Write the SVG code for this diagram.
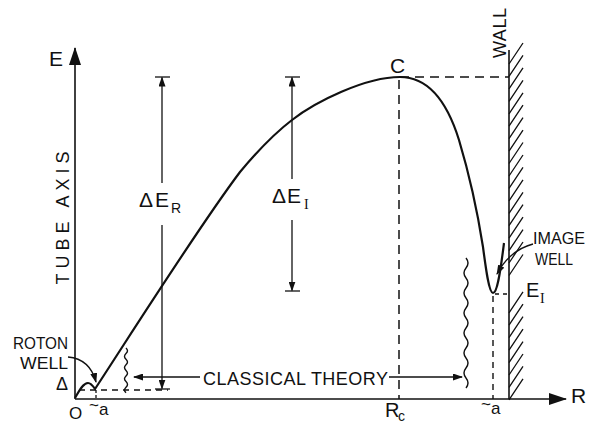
<svg xmlns="http://www.w3.org/2000/svg" width="592" height="423" viewBox="0 0 592 423">
<defs>
<style>
text{font-family:"Liberation Sans",Arial,sans-serif;fill:#111;}
.ln{stroke:#111;fill:none;stroke-width:1.3;}
.ax{stroke:#111;fill:none;stroke-width:1.6;}
.crv{stroke:#111;fill:none;stroke-width:2.2;stroke-linejoin:round;}
.dash{stroke:#111;fill:none;stroke-width:1.5;stroke-dasharray:9 6;}
.dash2{stroke:#111;fill:none;stroke-width:1.4;stroke-dasharray:6 5;}
.wav{stroke:#111;fill:none;stroke-width:1.4;}
.t16{font-size:16px;}
.t17{font-size:17px;}
.t18{font-size:18px;}
.t20{font-size:20px;}
.t21{font-size:21px;}
.sub{font-size:14px;}
</style>
<marker id="ah" markerUnits="userSpaceOnUse" markerWidth="10" markerHeight="7" refX="9" refY="3.5" orient="auto"><path d="M0,0 L10,3.5 L0,7 z" fill="#111"/></marker>
<marker id="axh" markerUnits="userSpaceOnUse" markerWidth="18" markerHeight="12" refX="17" refY="6" orient="auto"><path d="M0,0 L18,6 L0,12 z" fill="#111"/></marker>
</defs>
<rect width="592" height="423" fill="#fff"/>

<g id="axes">
<line class="ax" x1="75" y1="399" x2="75" y2="48" marker-end="url(#axh)"/>
<line class="ax" x1="75" y1="399" x2="566" y2="399" marker-end="url(#axh)"/>
<text class="t21" x="49" y="66">E</text>
<text class="t21" x="571" y="403">R</text>
<text class="t17" x="69" y="419">O</text>
<text class="t18" x="69" y="218" transform="rotate(-90 69 218)" text-anchor="middle" textLength="133" lengthAdjust="spacing">TUBE AXIS</text>
</g>

<g id="wall">
<line class="ax" x1="509" y1="50" x2="509" y2="399"/>
<path class="ln" d="M509,64 l14,-21 M509,76.4 l14,-21 M509,88.9 l14,-21 M509,101.3 l14,-21 M509,113.8 l14,-21 M509,126.2 l14,-21 M509,138.6 l14,-21 M509,151.1 l14,-21 M509,163.5 l14,-21 M509,176 l14,-21 M509,188.4 l14,-21 M509,200.8 l14,-21 M509,213.3 l14,-21 M509,225.7 l14,-21 M509,238.2 l14,-21 M509,250.6 l14,-21 M509,263 l14,-21 M509,275.5 l14,-21 M509,312.8 l14,-21 M509,325.2 l14,-21 M509,337.7 l14,-21 M509,350.1 l14,-21 M509,362.6 l14,-21 M509,375 l14,-21 M509,387.4 l14,-21 M509,399.9 l14,-21"/>
<text class="t18" x="506" y="33" transform="rotate(-90 506 33)" text-anchor="middle" textLength="50" lengthAdjust="spacing">WALL</text>
</g>

<g id="curve">
<path class="crv" d="M75,398 C79,391 83,383 88,383 C91,383 93,386 95,389 C140,320 200,225 240,172 C260,148 275,133 292,120 C315,102 365,77 400,77 C425,77 445,95 459,140 C468,170 478,215 483,247 C486,270 489,293 493,293 C497,293 500,275 504,243"/>
</g>

<g id="peak-C">
<text class="t21" x="390" y="73">C</text>
<line class="dash" x1="400" y1="77" x2="509" y2="77"/>
<line class="dash" x1="399" y1="80" x2="399" y2="399"/>
<text class="t20" x="385" y="417">R</text>
<text class="sub" x="398" y="421">c</text>
</g>

<g id="delta-ER">
<line class="ln" x1="155" y1="77" x2="170" y2="77"/>
<line class="ln" x1="155" y1="389" x2="170" y2="389"/>
<line class="ln" x1="162" y1="183" x2="162" y2="77.5" marker-end="url(#ah)"/>
<line class="ln" x1="162" y1="225" x2="162" y2="388.5" marker-end="url(#ah)"/>
<text class="t21" x="139" y="207" letter-spacing="2">ΔE</text>
<text class="sub" x="171" y="213">R</text>
</g>

<g id="delta-EI">
<line class="ln" x1="285" y1="77" x2="300" y2="77"/>
<line class="ln" x1="285" y1="291" x2="300" y2="291"/>
<line class="ln" x1="292" y1="179" x2="292" y2="77.5" marker-end="url(#ah)"/>
<line class="ln" x1="292" y1="220" x2="292" y2="290.5" marker-end="url(#ah)"/>
<text class="t21" x="272" y="203" letter-spacing="1">ΔE</text>
<text class="sub" x="304" y="209" style="font-family:'Liberation Serif',serif">I</text>
</g>

<g id="roton-well">
<text class="t17" x="68" y="349" text-anchor="end" textLength="55" lengthAdjust="spacingAndGlyphs">ROTON</text>
<text class="t17" x="68" y="369" text-anchor="end" textLength="48" lengthAdjust="spacingAndGlyphs">WELL</text>
<path class="ln" d="M68,357 Q90,359 96,382" marker-end="url(#ah)"/>
<text class="t18" x="56" y="390">Δ</text>
<line class="dash2" x1="79" y1="390" x2="168" y2="390"/>
<line class="ln" x1="96" y1="390" x2="96" y2="399" stroke-dasharray="3 2"/>
<text class="t17" x="89" y="415"><tspan dy="-4">~</tspan><tspan dy="4">a</tspan></text>
</g>

<g id="image-well">
<text class="t17" x="533" y="244" textLength="52" lengthAdjust="spacingAndGlyphs">IMAGE</text>
<text class="t17" x="535" y="265" textLength="38" lengthAdjust="spacingAndGlyphs">WELL</text>
<path class="ln" d="M533,244 Q510,250 497,274" marker-end="url(#ah)"/>
<line class="ln" x1="495" y1="294" x2="508" y2="294" stroke-dasharray="4 4"/>
<line class="dash2" x1="493" y1="296" x2="493" y2="399"/>
<text class="t20" x="526" y="297">E</text>
<text class="sub" x="540" y="303" style="font-family:'Liberation Serif',serif">I</text>
<text class="t17" x="481" y="414"><tspan dy="-4">~</tspan><tspan dy="4">a</tspan></text>
</g>

<g id="connectors">
<path class="wav" d="M126,348 q3,2.8 0,5.6 t0,5.6 t0,5.6 t0,5.6 t0,5.6 t0,5.6 t0,5.6 t0,5.6"/>
<path class="wav" d="M466,258 q4,5 0,10 t0,10 t0,10 t0,10 t0,10 t0,10 t0,10 t0,10 t0,10 t0,10 t0,10 t0,10 t0,10"/>
<line class="ln" x1="200" y1="377" x2="134" y2="377" marker-end="url(#ah)"/>
<line class="ln" x1="389" y1="377" x2="462" y2="377" marker-end="url(#ah)"/>
</g>

<g id="classical-theory">
<text class="t18" x="203" y="385" textLength="185" lengthAdjust="spacing">CLASSICAL THEORY</text>
</g>
</svg>
